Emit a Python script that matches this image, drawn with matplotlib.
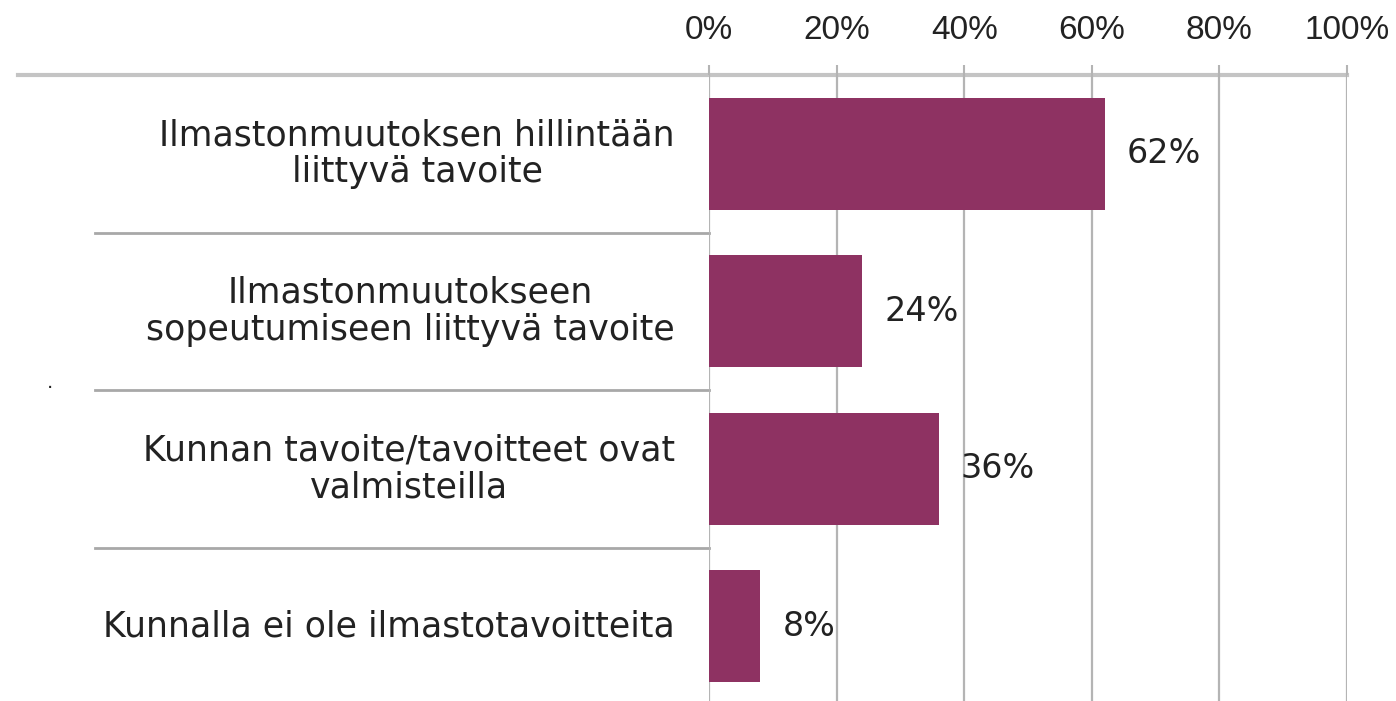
import matplotlib.pyplot as plt
from matplotlib.transforms import blended_transform_factory

categories = [
    "Ilmastonmuutoksen hillintään\nliittyvä tavoite",
    "Ilmastonmuutokseen\nsopeutumiseen liittyvä tavoite",
    "Kunnan tavoite/tavoitteet ovat\nvalmisteilla",
    "Kunnalla ei ole ilmastotavoitteita",
]
values = [62, 24, 36, 8]
xticks = [0, 20, 40, 60, 80, 100]

bar_color = "#8e3262"
grid_color = "#b4b4b4"
num_font = "Liberation Sans"
lab_font = "DejaVu Sans"

W, H = 1396, 701
fig = plt.figure(figsize=(W / 100, H / 100), dpi=100)
ax = fig.add_axes([709 / W, 0, (1347 - 709) / W, 1 - 75 / H])

y = list(range(len(categories)))
ax.barh(y, values, height=0.71, color=bar_color, zorder=3)
ax.set_xlim(0, 100)
ax.set_ylim(3.5 - 4 / 157, -0.5)

for yi, v in zip(y, values):
    ax.annotate(f"{v}%", (v, yi), xytext=(16, 0), textcoords="offset points",
                va="center", ha="left", fontsize=24, family=lab_font, color="#222222")

ax.xaxis.tick_top()
ax.set_xticks(xticks)
ax.set_xticklabels([f"{t}%" for t in xticks], fontsize=24, family=num_font, color="#222222")
ax.tick_params(axis="x", length=7, width=1.5, color=grid_color, pad=14)
ax.set_yticks([])
ax.xaxis.grid(True, color=grid_color, linewidth=1.6, zorder=0)
for s in ax.spines.values():
    s.set_visible(False)

# category labels
trans = blended_transform_factory(fig.transFigure, ax.transData)
for yi, lab in zip(y, categories):
    ax.text(675 / W, yi, lab, transform=trans, ha="right", va="center",
            fontsize=25, family=lab_font, color="#222222", multialignment="center",
            linespacing=1.12)

# separator lines
ax.plot([18 / W, 1347 / W], [-0.5, -0.5], transform=trans, color="#c4c4c4",
        linewidth=3, clip_on=False, zorder=1)
for yi in [0.5, 1.5, 2.5]:
    ax.plot([95 / W, 709 / W], [yi, yi], transform=trans, color="#a8a8a8",
            linewidth=2, clip_on=False, zorder=1)

fig.text(50 / W, 1 - 392 / H, ".", fontsize=14, ha="center", va="bottom", color="#222222")

plt.savefig("out.png", dpi=100)
